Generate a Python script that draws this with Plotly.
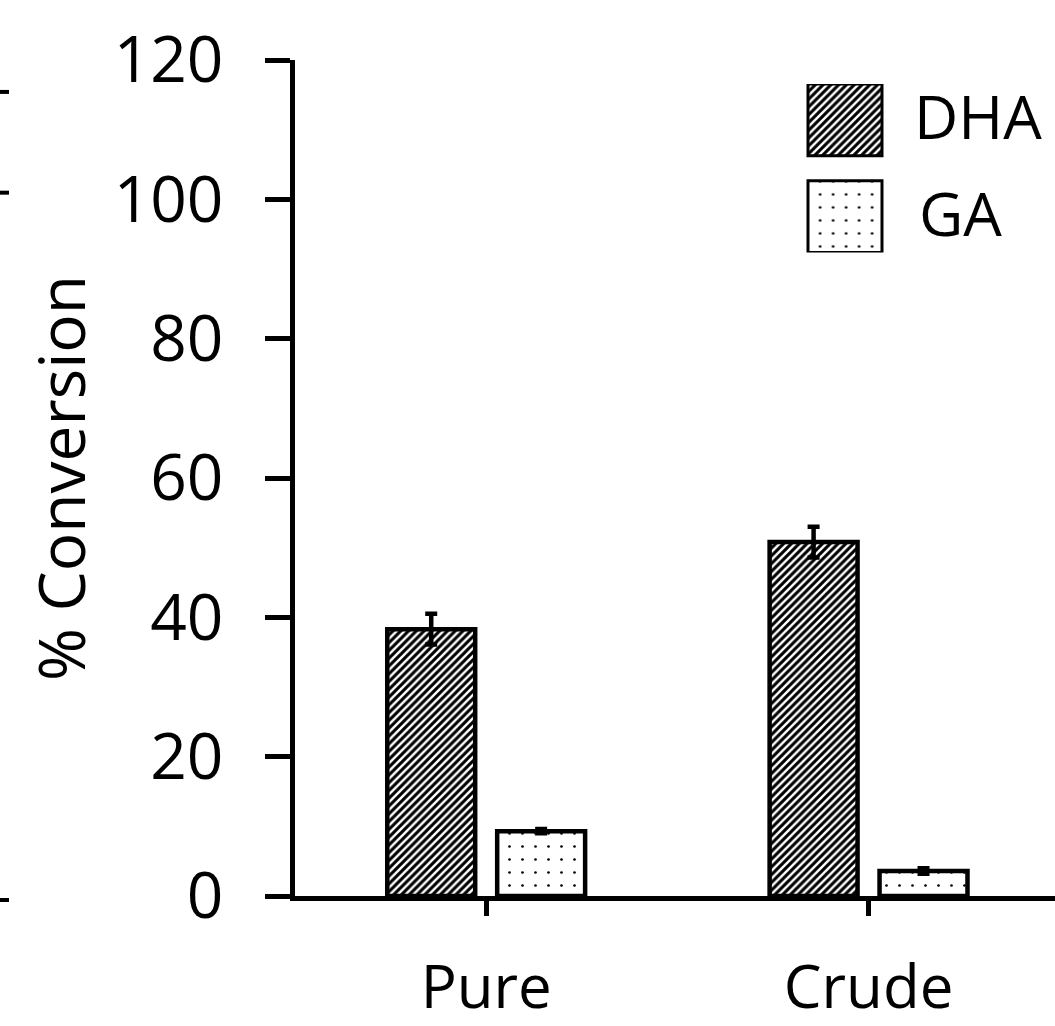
import plotly.graph_objects as go

categories = ["Pure", "Crude"]
dha_values = [38.3, 50.8]
dha_errors = [2.2, 2.2]
ga_values = [9.3, 3.6]
ga_errors = [0.3, 0.4]
series_names = ["DHA", "GA"]
y_ticks = [0, 20, 40, 60, 80, 100, 120]

FONT = "Open Sans"
W, H = 1055, 1026
L, R, T, B = 295, 0, 60, 128
PW, PH = W - L - R, H - T - B


def px_x(p):
    return (p - L) / PW


def px_y(p):
    return (H - B - p) / PH


dha_pattern = dict(shape="/", size=5.5, solidity=0.55, fgcolor="black", bgcolor="white", fillmode="replace")
ga_pattern = dict(shape=".", size=13, solidity=0.035, fgcolor="black", bgcolor="white", fillmode="replace")

fig = go.Figure()
fig.add_trace(go.Bar(
    x=categories, y=dha_values, name=series_names[0],
    marker=dict(color="white", pattern=dha_pattern, line=dict(color="black", width=4.5)),
    error_y=dict(type="data", array=dha_errors, color="black", thickness=4.5, width=6),
    showlegend=False,
))
fig.add_trace(go.Bar(
    x=categories, y=ga_values, name=series_names[1],
    marker=dict(color="white", pattern=ga_pattern, line=dict(color="black", width=4.5)),
    error_y=dict(type="data", array=ga_errors, color="black", thickness=4.5, width=6),
    showlegend=False,
))

# custom legend swatches (horizontal bars on an overlay axis)
fig.add_trace(go.Bar(
    x=[1], y=[1], base=0, orientation="h", width=0.742, xaxis="x2", yaxis="y2",
    marker=dict(color="white", pattern=dha_pattern, line=dict(color="black", width=3)),
    showlegend=False, hoverinfo="skip",
))
fig.add_trace(go.Bar(
    x=[1], y=[0], base=0, orientation="h", width=0.742, xaxis="x2", yaxis="y2",
    marker=dict(color="white", pattern=ga_pattern, line=dict(color="black", width=3)),
    showlegend=False, hoverinfo="skip",
))

annotations = [
    dict(text="% Conversion", x=px_x(60), y=0.5, xref="paper", yref="paper",
         textangle=-90, showarrow=False, xanchor="center", yanchor="middle",
         font=dict(family=FONT, size=64, color="black")),
    dict(text=series_names[0], x=px_x(912), y=px_y(116), xref="paper", yref="paper",
         showarrow=False, xanchor="left", yanchor="middle",
         font=dict(family=FONT, size=61, color="black")),
    dict(text=series_names[1], x=px_x(917), y=px_y(213), xref="paper", yref="paper",
         showarrow=False, xanchor="left", yanchor="middle",
         font=dict(family=FONT, size=61, color="black")),
]

shapes = []
for yy in (92, 193, 902):
    shapes.append(dict(type="line", xref="paper", yref="paper",
                       x0=px_x(0), x1=px_x(9), y0=px_y(yy), y1=px_y(yy),
                       line=dict(color="black", width=4)))

fig.update_layout(
    width=W, height=H,
    margin=dict(l=L, r=R, t=T, b=B, pad=0),
    paper_bgcolor="white", plot_bgcolor="white",
    barmode="group", bargap=0.425, bargroupgap=0.2,
    font=dict(family=FONT, color="black"),
    xaxis=dict(
        range=[-0.5, 1.4876], showgrid=False, zeroline=False,
        showline=True, linecolor="black", linewidth=4.5,
        ticks="outside", ticklen=15, tickwidth=4.5, tickcolor="black",
        tickfont=dict(family=FONT, size=60, color="black"),
        ticklabelstandoff=20,
    ),
    yaxis=dict(
        range=[0, 120], tickvals=y_ticks, showgrid=False, zeroline=False,
        showline=True, linecolor="black", linewidth=4.5,
        ticks="outside", ticklen=25, tickwidth=4.5, tickcolor="black",
        tickfont=dict(family=FONT, size=64, color="black"),
        ticklabelstandoff=29,
    ),
    xaxis2=dict(domain=[px_x(800.6), px_x(889.4)], range=[-0.1, 1.1], anchor="y2",
                visible=False, fixedrange=True),
    yaxis2=dict(domain=[px_y(253), px_y(84)], range=[-0.371, 1.371], anchor="x2",
                visible=False, fixedrange=True),
    annotations=annotations,
    shapes=shapes,
    showlegend=False,
)

fig.write_html("out.html")
